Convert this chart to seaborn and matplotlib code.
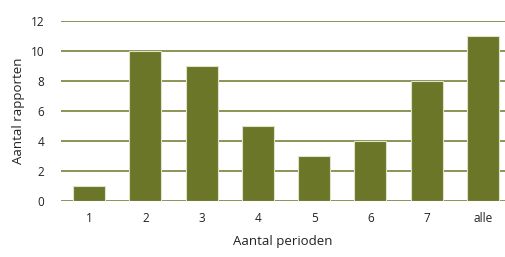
import matplotlib
matplotlib.use("Agg")
import matplotlib.pyplot as plt
import pandas as pd
import seaborn as sns

categories = ["1", "2", "3", "4", "5", "6", "7", "alle"]
counts = [1, 10, 9, 5, 3, 4, 8, 11]
yticks = [0, 2, 4, 6, 8, 10, 12]

OLIVE = "#6b7629"

df = pd.DataFrame({"Aantal perioden": categories, "Aantal rapporten": counts})

sns.set_style("white")
plt.rcParams['font.family'] = ['Open Sans', 'DejaVu Sans']

fig = plt.figure(figsize=(5.06, 2.57), dpi=100)
ax = fig.add_axes([0.1206, 0.218, 0.878, 0.70])

ax.set_axisbelow(True)
for y in yticks:
    ax.axhline(y, color=OLIVE, linewidth=1.1, zorder=0)

sns.barplot(data=df, x="Aantal perioden", y="Aantal rapporten", order=categories,
            color=OLIVE, saturation=1, width=0.57, edgecolor="#dfe3c8",
            linewidth=0.8, ax=ax, zorder=2)

ax.set_ylim(0, 12)
ax.set_xlim(-0.5, 7.4)
ax.set_yticks(yticks)
ax.tick_params(axis="both", length=0, labelsize=8.5, colors="#222222")
ax.tick_params(axis="x", pad=8)
ax.tick_params(axis="y", pad=12)
sns.despine(ax=ax, left=True, bottom=True, top=True, right=True)
ax.set_xlabel("Aantal perioden", fontsize=9.5, labelpad=7, color="#222222")
ax.set_ylabel("Aantal rapporten", fontsize=9.5, labelpad=4, color="#222222")

plt.savefig("out.png", dpi=100)
